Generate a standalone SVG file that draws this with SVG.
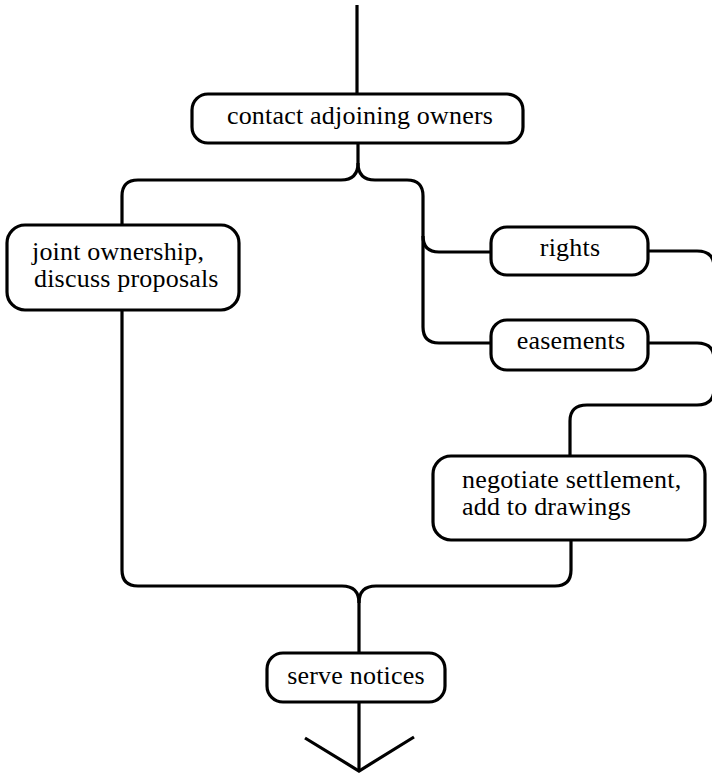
<svg xmlns="http://www.w3.org/2000/svg" width="712" height="776" viewBox="0 0 712 776">
  <style>
    .box { fill: #ffffff; stroke: #000000; stroke-width: 3.2; }
    .wire { fill: none; stroke: #000000; stroke-width: 3.2; stroke-linecap: butt; stroke-linejoin: miter; }
    .label { font-family: "Liberation Serif", "Times New Roman", serif; font-size: 26px; fill: #000000; letter-spacing: 0.2px; }
    .mid { text-anchor: middle; }
  </style>
  <rect width="712" height="776" fill="#ffffff"/>

  <g id="connectors">
    <path class="wire" d="M357,5 V94"/>
    <path class="wire" d="M358,143 V163 Q358,180 341,180 H138 Q122,180 122,196 V226"/>
    <path class="wire" d="M358,163 Q358,180 375,180 H407 Q423,180 423,196 V327 Q423,343 439,343 H492"/>
    <path class="wire" d="M423,236 Q423,252 439,252 H492"/>
    <path class="wire" d="M647,251 H697 Q714,251 714,267 V359"/>
    <path class="wire" d="M647,343 H697 Q714,343 714,359 V389 Q714,405 697,405 H587 Q570,405 570,421 V457"/>
    <path class="wire" d="M122,309 V570 Q122,586 138,586 H342 Q359,586 359,603"/>
    <path class="wire" d="M571,539 V570 Q571,586 555,586 H376 Q359,586 359,603 V654"/>
    <path class="wire" d="M359,701 V770"/>
    <path class="wire" d="M305,738 L359,771 L414,737"/>
  </g>

  <g id="contact-owners">
    <rect class="box" x="192" y="94" width="331" height="49" rx="16"/>
    <text class="label mid" x="360" y="124">contact adjoining owners</text>
  </g>

  <g id="joint-ownership">
    <rect class="box" x="7" y="225" width="232" height="85" rx="18"/>
    <text class="label" x="32" y="260">joint ownership,</text>
    <text class="label" x="34" y="287">discuss proposals</text>
  </g>

  <g id="rights">
    <rect class="box" x="491" y="227" width="157" height="48" rx="16"/>
    <text class="label mid" x="570" y="256">rights</text>
  </g>

  <g id="easements">
    <rect class="box" x="491" y="320" width="157" height="50" rx="16"/>
    <text class="label mid" x="571" y="349">easements</text>
  </g>

  <g id="negotiate-settlement">
    <rect class="box" x="433" y="456" width="272" height="84" rx="18"/>
    <text class="label" x="462" y="488">negotiate settlement,</text>
    <text class="label" x="462" y="515">add to drawings</text>
  </g>

  <g id="serve-notices">
    <rect class="box" x="267" y="653" width="178" height="49" rx="16"/>
    <text class="label mid" x="356" y="684">serve notices</text>
  </g>
</svg>
